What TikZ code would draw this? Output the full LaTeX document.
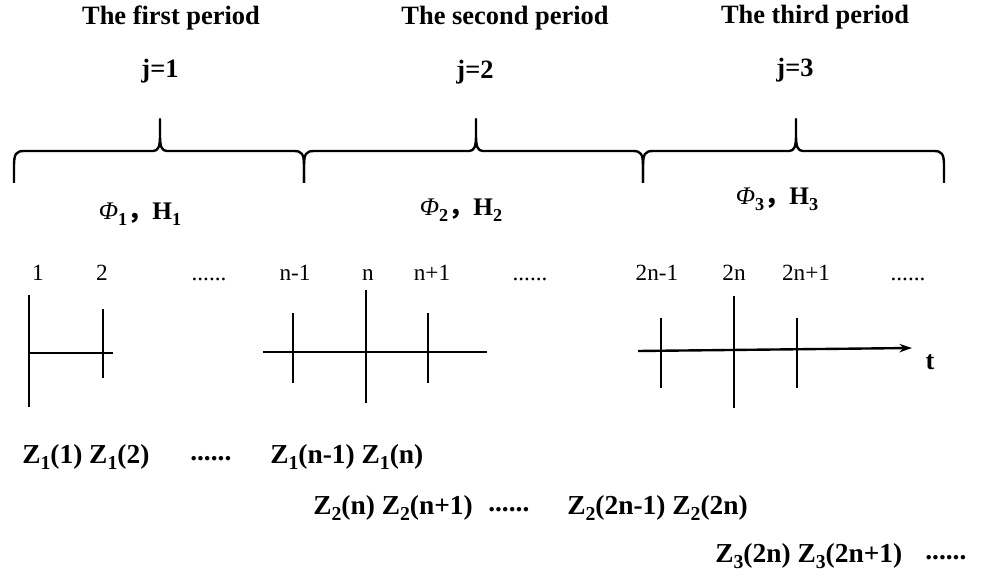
\documentclass[tikz,border=0pt]{standalone}
\usepackage{fontspec}
\setmainfont{Liberation Serif}
\newfontfamily\cjk{Noto Sans CJK SC}
\usetikzlibrary{arrows.meta}

\newcommand\sixdots{......}
\newcommand\lowsub[1]{\raisebox{-0.24em}{\scalebox{0.72}{#1}}}

% curly brace over one period: left x, tip x, right x
\newcommand\periodbrace[3]{%
    \draw[bracepath] (#1,183) -- (#1,166) .. controls (#1,154) and (#1+2,151) .. (#1+10,151)
        -- (#2-7,151) .. controls (#2-2,151) and (#2,147) .. (#2,136) -- (#2,119)
        -- (#2,136) .. controls (#2,147) and (#2+2,151) .. (#2+7,151)
        -- (#3-10,151) .. controls (#3-2,151) and (#3,154) .. (#3,166) -- (#3,183);
}

\begin{document}
\begin{tikzpicture}[
        x=0.025cm, y=-0.025cm,
        title/.style={inner sep=0pt, font=\fontsize{18.8}{22}\selectfont\bfseries},
        param/.style={inner sep=0pt, font=\fontsize{18}{21}\selectfont\bfseries},
        num/.style={inner sep=0pt, anchor=base, font=\fontsize{16.5}{20}\selectfont},
        zlab/.style={inner sep=0pt, anchor=base west, font=\fontsize{19.5}{23}\selectfont\bfseries},
        bracepath/.style={line width=1.7pt, line join=round},
        axisline/.style={line width=1.7pt},
        tick/.style={line width=1.7pt}
    ]
        \useasboundingbox (0,0) rectangle (984,576);

        % --- periods ---
        \node[title] (per1) at (171,18) {The first period};
        \node[title] (per2) at (505,18) {The second period};
        \node[title] (per3) at (815,17) {The third period};

        \node[title] (j1) at (160,71) {j=1};
        \node[title] (j2) at (475,72) {j=2};
        \node[title] (j3) at (795,70) {j=3};

        % --- braces ---
        \periodbrace{14}{160}{304}
        \periodbrace{304}{476}{643}
        \periodbrace{643}{796}{944}

        \node[param] (par1) at (140,214) {{\mdseries\itshape Φ}\lowsub{1}{\cjk ，}H\lowsub{1}};
        \node[param] (par2) at (461,210) {{\mdseries\itshape Φ}\lowsub{2}{\cjk ，}H\lowsub{2}};
        \node[param] (par3) at (777,199) {{\mdseries\itshape Φ}\lowsub{3}{\cjk ，}H\lowsub{3}};

        % --- time labels ---
        \foreach \x/\lab [count=\i] in {38/1, 102/2, 209/\sixdots, 295/n-1, 368/n, 432/n+1,
                530/\sixdots, 657/2n-1, 734/2n, 806/2n+1, 908/\sixdots} {
            \node[num] (tl\i) at (\x,281) {\lab};
        }

        % --- time axis ---
        \coordinate (a1s) at (29,353);
        \coordinate (a1e) at (113,353);
        \coordinate (a2s) at (263,352);
        \coordinate (a2e) at (487,352);
        \coordinate (a3s) at (638,351);
        \coordinate (a3e) at (912,348);
        \draw[axisline] (a1s) -- (a1e);
        \draw[axisline] (a2s) -- (a2e);
        \draw[axisline, -{Stealth[length=9pt, width=6pt]}] (a3s) -- (a3e);
        \node[title] (t) at (930,362) {t};

        \foreach \x/\top/\bot in {29/295/407, 103/309/378, 293/313/383, 366/290/403,
                428/313/383, 661/318/388, 734/296/408, 797/318/388} {
            \draw[tick] (\x,\top) -- (\x,\bot);
        }

        % --- observations ---
        \node[zlab] (z1a) at (22,463) {Z\lowsub{1}(1) Z\lowsub{1}(2)};
        \node[zlab] (z1b) at (190,460) {\sixdots};
        \node[zlab] (z1c) at (270,463) {Z\lowsub{1}(n-1) Z\lowsub{1}(n)};

        \node[zlab] (z2a) at (313,514) {Z\lowsub{2}(n) Z\lowsub{2}(n+1)};
        \node[zlab] (z2b) at (488,511) {\sixdots};
        \node[zlab] (z2c) at (567,514) {Z\lowsub{2}(2n-1) Z\lowsub{2}(2n)};

        \node[zlab] (z3a) at (715,562) {Z\lowsub{3}(2n) Z\lowsub{3}(2n+1)};
        \node[zlab] (z3b) at (925,559) {\sixdots};
    \end{tikzpicture}
\end{document}
